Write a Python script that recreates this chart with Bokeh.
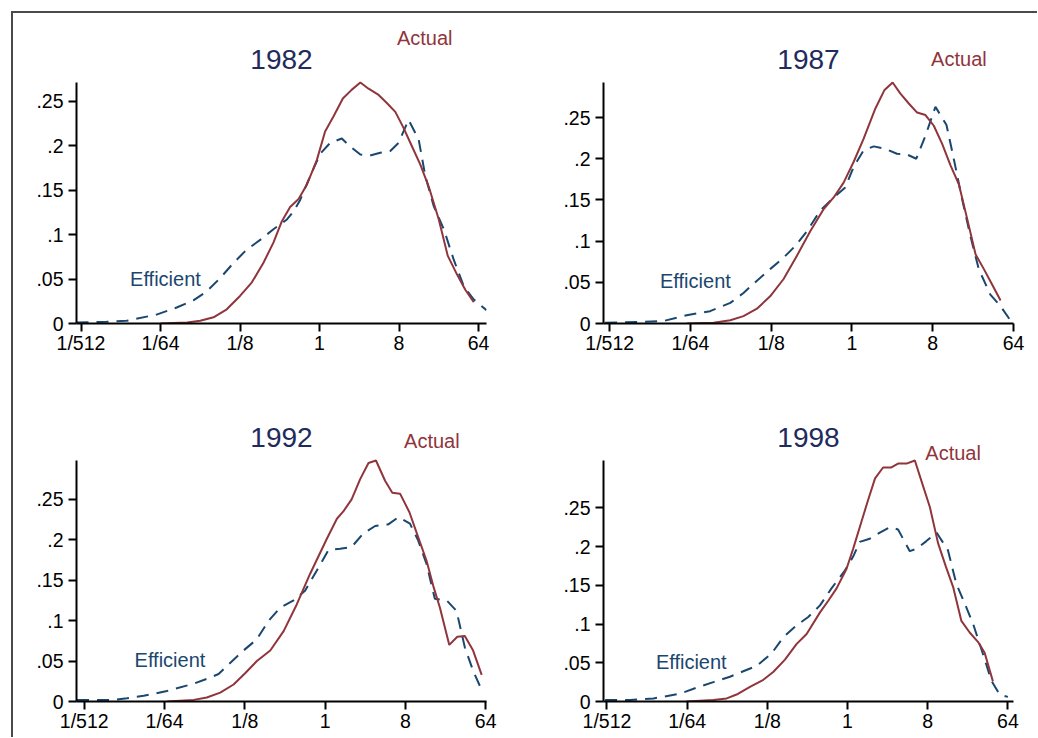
from bokeh.plotting import figure
from bokeh.layouts import row, column
from bokeh.models import Range1d, FixedTicker, CustomJSTickFormatter, Label
from bokeh.embed import file_html
from bokeh.resources import INLINE

# ---------------- data (x stored as log2 of size) ----------------
years = ["1982", "1987", "1992", "1998"]
x_tick_values = [1 / 512, 1 / 64, 1 / 8, 1, 8, 64]
y_tick_values = [0, 0.05, 0.10, 0.15, 0.20, 0.25]

act_1982_log2x = [-6.0, -5.0, -4.5, -4.0, -3.5, -3.0, -2.56, -2.12, -1.74, -1.42, -1.11, -0.79, -0.48, -0.10, 0.21, 0.53,
                  0.88, 1.22, 1.54, 1.85, 2.23, 2.54, 2.86, 3.17, 3.49, 3.80, 4.12, 4.50, 4.84, 5.19, 5.50, 5.82]
act_1982_y = [0.000, 0.001, 0.003, 0.007, 0.016, 0.031, 0.046, 0.068, 0.091, 0.115, 0.131, 0.140, 0.156, 0.184, 0.216, 0.233,
              0.253, 0.263, 0.271, 0.264, 0.257, 0.248, 0.238, 0.220, 0.199, 0.179, 0.154, 0.117, 0.076, 0.055, 0.038, 0.024]
eff_1982_log2x = [-9.17, -8.04, -7.28, -6.15, -5.39, -4.76, -4.26, -3.75, -3.25, -2.75, -2.24, -1.74, -1.23, -0.98, -0.73,
                  -0.35, 0.03, 0.40, 0.84, 1.16, 1.54, 1.91, 2.29, 2.67, 2.98, 3.36, 3.74, 3.99, 4.31, 4.69, 5.06, 5.44,
                  5.82, 6.30]
eff_1982_y = [0.001, 0.002, 0.003, 0.010, 0.018, 0.026, 0.036, 0.051, 0.068, 0.083, 0.094, 0.106, 0.117, 0.126, 0.139,
              0.166, 0.191, 0.203, 0.208, 0.199, 0.190, 0.189, 0.192, 0.194, 0.203, 0.229, 0.207, 0.166, 0.132, 0.106,
              0.072, 0.042, 0.027, 0.015]

act_1987_log2x = [-6.14, -5.14, -4.52, -4.03, -3.53, -3.04, -2.54, -2.05, -1.55, -1.05, -0.68, -0.31, 0.06, 0.43, 0.87,
                  1.20, 1.51, 1.80, 2.11, 2.42, 2.73, 3.04, 3.35, 3.66, 3.97, 4.28, 4.59, 4.90, 5.21, 5.52]
act_1987_y = [0.000, 0.001, 0.004, 0.009, 0.018, 0.033, 0.054, 0.082, 0.112, 0.139, 0.153, 0.171, 0.196, 0.224, 0.261,
              0.283, 0.2925, 0.279, 0.267, 0.256, 0.253, 0.240, 0.218, 0.192, 0.169, 0.127, 0.084, 0.066, 0.047, 0.028]
eff_1987_log2x = [-9.17, -7.75, -7.00, -6.14, -5.27, -4.52, -4.03, -3.53, -3.04, -2.54, -2.11, -1.67, -1.18, -0.68, -0.25,
                  0.06, 0.43, 0.81, 1.24, 1.67, 2.05, 2.39, 2.73, 3.10, 3.51, 3.78, 4.09, 4.40, 4.71, 5.14, 5.52, 5.86]
eff_1987_y = [0.001, 0.002, 0.003, 0.010, 0.015, 0.025, 0.037, 0.052, 0.066, 0.080, 0.094, 0.112, 0.137, 0.153, 0.165,
              0.190, 0.210, 0.215, 0.212, 0.206, 0.205, 0.200, 0.228, 0.263, 0.241, 0.200, 0.151, 0.106, 0.066, 0.035,
              0.021, 0.005]

act_1992_log2x = [-5.91, -4.91, -4.42, -3.92, -3.42, -2.99, -2.55, -2.05, -1.55, -1.06, -0.56, 0.06, 0.44, 0.68, 0.99,
                  1.31, 1.62, 1.90, 2.24, 2.51, 2.80, 3.15, 3.48, 3.79, 4.04, 4.29, 4.64, 4.94, 5.22, 5.53, 5.85]
act_1992_y = [0.000, 0.002, 0.005, 0.011, 0.021, 0.035, 0.050, 0.063, 0.087, 0.120, 0.158, 0.201, 0.226, 0.235, 0.250,
              0.275, 0.295, 0.298, 0.273, 0.258, 0.257, 0.234, 0.203, 0.174, 0.143, 0.116, 0.070, 0.080, 0.081, 0.063,
              0.033]
eff_1992_log2x = [-9.27, -7.90, -7.40, -6.78, -5.91, -4.91, -4.42, -3.98, -3.54, -3.05, -2.55, -2.11, -1.68, -1.18, -0.75,
                  -0.31, 0.12, 0.56, 0.99, 1.43, 1.87, 2.36, 2.74, 3.17, 3.48, 3.79, 4.10, 4.54, 4.91, 5.22, 5.53, 5.88]
eff_1992_y = [0.002, 0.002, 0.004, 0.007, 0.013, 0.022, 0.028, 0.034, 0.048, 0.063, 0.077, 0.100, 0.116, 0.125, 0.137,
              0.162, 0.187, 0.189, 0.191, 0.208, 0.217, 0.219, 0.228, 0.220, 0.199, 0.170, 0.127, 0.125, 0.112, 0.067,
              0.038, 0.012]

act_1998_log2x = [-6.02, -5.02, -4.52, -4.15, -3.65, -3.15, -2.78, -2.34, -1.91, -1.53, -1.03, -0.72, -0.41, -0.04, 0.21,
                  0.52, 0.77, 1.03, 1.33, 1.64, 1.89, 2.21, 2.52, 2.77, 3.08, 3.39, 3.68, 3.95, 4.26, 4.57, 4.88, 5.13,
                  5.44]
act_1998_y = [0.000, 0.002, 0.004, 0.009, 0.019, 0.028, 0.038, 0.054, 0.074, 0.087, 0.115, 0.130, 0.146, 0.171, 0.197,
              0.232, 0.260, 0.288, 0.302, 0.302, 0.307, 0.307, 0.311, 0.284, 0.251, 0.204, 0.174, 0.148, 0.104, 0.089,
              0.077, 0.063, 0.026]
eff_1998_log2x = [-9.07, -8.13, -7.26, -6.27, -5.64, -5.02, -4.40, -3.90, -3.40, -2.84, -2.40, -1.91, -1.47, -1.03, -0.60,
                  -0.10, 0.21, 0.46, 0.83, 1.21, 1.58, 1.89, 2.33, 2.58, 2.95, 3.33, 3.76, 4.07, 4.39, 4.70, 5.07, 5.38,
                  5.69, 6.00]
eff_1998_y = [0.002, 0.002, 0.004, 0.010, 0.018, 0.025, 0.032, 0.039, 0.046, 0.062, 0.083, 0.098, 0.109, 0.124, 0.146,
              0.169, 0.187, 0.206, 0.210, 0.218, 0.225, 0.222, 0.194, 0.197, 0.207, 0.218, 0.195, 0.152, 0.126, 0.100,
              0.061, 0.027, 0.009, 0.006]

x_extent_log2 = [(-9.17, 6.30), (-9.23, 6.00), (-9.29, 6.03), (-9.13, 6.21)]
actual_label_pos = [(2.92, 0.312), (2.94, 0.311), (2.95, 0.312), (2.91, 0.310)]
efficient_label_pos = [(-7.15, 0.0416), (-7.13, 0.0418), (-7.12, 0.041), (-7.17, 0.0408)]

panels = [
    (act_1982_log2x, act_1982_y, eff_1982_log2x, eff_1982_y),
    (act_1987_log2x, act_1987_y, eff_1987_log2x, eff_1987_y),
    (act_1992_log2x, act_1992_y, eff_1992_log2x, eff_1992_y),
    (act_1998_log2x, act_1998_y, eff_1998_log2x, eff_1998_y),
]

# ---------------- style ----------------
FONT = "Liberation Sans"
ACT_COLOR = "#90353b"
EFF_COLOR = "#1a476f"
TITLE_COLOR = "#1e2b5c"

DATA_H = 241          # pixel height of the data region (0 .. max)
x_fmt = CustomJSTickFormatter(code="""
    if (tick >= 1) { return String(Math.round(tick)); }
    return '1/' + Math.round(1 / tick);
""")
y_fmt = CustomJSTickFormatter(code="""
    if (Math.abs(tick) < 1e-9) { return '0'; }
    return String(+tick.toFixed(2)).replace(/^0/, '');
""")

# (min_border_left, min_border_right, min_border_top, min_border_bottom, frame_height)
geom = [(63, 54, 2, 65, 308), (63, 24, 2, 65, 308), (63, 54, 2, 36, 311), (63, 24, 2, 36, 311)]


def make_panel(i):
    ax, ay, ex, ey = panels[i]
    lo, hi = x_extent_log2[i]
    ymax = max(max(ay), max(ey))
    bl, br, bt, bb, fh = geom[i]
    p = figure(x_axis_type="log",
               x_range=Range1d(2 ** lo, 2 ** hi), y_range=Range1d(0, ymax * fh / DATA_H),
               frame_width=410, frame_height=fh,
               min_border_left=bl, min_border_right=br, min_border_top=bt, min_border_bottom=bb,
               output_backend="svg", toolbar_location=None,
               background_fill_color="white", border_fill_color="white")
    p.outline_line_color = None
    p.grid.visible = False

    for axis in (p.xaxis[0], p.yaxis[0]):
        axis.axis_line_width = 2
        axis.axis_line_color = "black"
        axis.major_tick_line_width = 2
        axis.major_tick_line_color = "black"
        axis.major_tick_in = 0
        axis.major_tick_out = 8
        axis.minor_tick_line_color = None
        axis.major_label_text_font = FONT
        axis.major_label_text_font_size = "19.5px"
        axis.major_label_text_color = "black"
    p.xaxis.major_label_standoff = 0
    p.yaxis.major_label_standoff = 5
    p.xaxis.ticker = FixedTicker(ticks=x_tick_values, minor_ticks=[])
    p.xaxis.formatter = x_fmt
    p.yaxis.ticker = FixedTicker(ticks=y_tick_values, minor_ticks=[])
    p.yaxis.formatter = y_fmt
    p.yaxis.bounds = (0, ymax)
    p.yaxis.major_label_orientation = "horizontal"

    p.line([2 ** v for v in ex], ey, line_color=EFF_COLOR, line_width=2, line_dash="12 8")
    p.line([2 ** v for v in ax], ay, line_color=ACT_COLOR, line_width=2)

    # panel title (year), centred over the plot region
    p.add_layout(Label(x=2 ** ((lo + hi) / 2), y=ymax * 1.05, text=years[i], text_font=FONT,
                       text_font_size="28px", text_color=TITLE_COLOR, text_align="center",
                       text_baseline="alphabetic", y_offset=11))
    lx, ly = actual_label_pos[i]
    p.add_layout(Label(x=2 ** lx, y=ly, text="Actual", text_font=FONT, text_font_size="20px",
                       text_color=ACT_COLOR, text_align="left", text_baseline="alphabetic", y_offset=8))
    lx, ly = efficient_label_pos[i]
    p.add_layout(Label(x=2 ** lx, y=ly, text="Efficient", text_font=FONT, text_font_size="20px",
                       text_color=EFF_COLOR, text_align="left", text_baseline="alphabetic", y_offset=8))
    return p


figs = [make_panel(i) for i in range(4)]
layout = column(row(figs[0], figs[1]), row(figs[2], figs[3]),
                styles={"margin-left": "11px", "margin-top": "11px",
                        "border-left": "2px solid #4a4a4a", "border-top": "2px solid #4a4a4a"})

open("out.html", "w").write(file_html(layout, INLINE))
